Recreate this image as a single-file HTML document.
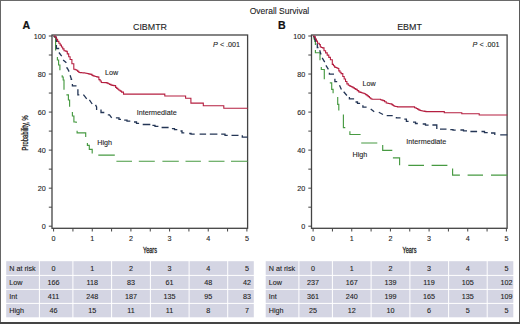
<!DOCTYPE html><html><head><meta charset="utf-8"><style>
html,body{margin:0;padding:0;background:#fff;}
svg{display:block;}
text{font-family:"Liberation Sans", sans-serif;fill:#222;stroke:#222;stroke-width:0.1px;}
</style></head><body>
<svg width="520" height="324" viewBox="0 0 520 324">
<rect x="0" y="0" width="520" height="324" fill="#fff"/>
<rect x="0" y="0" width="520" height="1" fill="#6a6a6a"/>
<rect x="0" y="0" width="1" height="324" fill="#666"/>
<rect x="519" y="0" width="1" height="324" fill="#5a5a5a"/>
<rect x="0" y="322" width="520" height="2" fill="#444"/>
<text x="279.5" y="13.9" font-size="8.5" text-anchor="middle">Overall Survival</text>
<text x="22.6" y="29.4" font-size="10.6" font-weight="bold" style="fill:#111;stroke:#111;stroke-width:0.2px">A</text>
<text x="150.00" y="30" font-size="8.9" text-anchor="middle">CIBMTR</text>
<rect x="52.00" y="35.0" width="195.60" height="193.30" fill="none" stroke="#444" stroke-width="1.3"/>
<line x1="48.80" y1="226.20" x2="52.00" y2="226.20" stroke="#444" stroke-width="1"/>
<text x="45.80" y="228.80" font-size="7.2" text-anchor="end">0</text>
<line x1="48.80" y1="207.18" x2="52.00" y2="207.18" stroke="#444" stroke-width="1"/>
<line x1="48.80" y1="188.16" x2="52.00" y2="188.16" stroke="#444" stroke-width="1"/>
<text x="45.80" y="190.76" font-size="7.2" text-anchor="end">20</text>
<line x1="48.80" y1="169.14" x2="52.00" y2="169.14" stroke="#444" stroke-width="1"/>
<line x1="48.80" y1="150.12" x2="52.00" y2="150.12" stroke="#444" stroke-width="1"/>
<text x="45.80" y="152.72" font-size="7.2" text-anchor="end">40</text>
<line x1="48.80" y1="131.10" x2="52.00" y2="131.10" stroke="#444" stroke-width="1"/>
<line x1="48.80" y1="112.08" x2="52.00" y2="112.08" stroke="#444" stroke-width="1"/>
<text x="45.80" y="114.68" font-size="7.2" text-anchor="end">60</text>
<line x1="48.80" y1="93.06" x2="52.00" y2="93.06" stroke="#444" stroke-width="1"/>
<line x1="48.80" y1="74.04" x2="52.00" y2="74.04" stroke="#444" stroke-width="1"/>
<text x="45.80" y="76.64" font-size="7.2" text-anchor="end">80</text>
<line x1="48.80" y1="55.02" x2="52.00" y2="55.02" stroke="#444" stroke-width="1"/>
<line x1="48.80" y1="36.00" x2="52.00" y2="36.00" stroke="#444" stroke-width="1"/>
<text x="45.80" y="38.60" font-size="7.2" text-anchor="end">100</text>
<line x1="53.60" y1="228.30" x2="53.60" y2="231.50" stroke="#444" stroke-width="1"/>
<text x="53.60" y="241" font-size="7.2" text-anchor="middle">0</text>
<line x1="72.93" y1="228.30" x2="72.93" y2="231.50" stroke="#444" stroke-width="1"/>
<line x1="92.26" y1="228.30" x2="92.26" y2="231.50" stroke="#444" stroke-width="1"/>
<text x="92.26" y="241" font-size="7.2" text-anchor="middle">1</text>
<line x1="111.59" y1="228.30" x2="111.59" y2="231.50" stroke="#444" stroke-width="1"/>
<line x1="130.92" y1="228.30" x2="130.92" y2="231.50" stroke="#444" stroke-width="1"/>
<text x="130.92" y="241" font-size="7.2" text-anchor="middle">2</text>
<line x1="150.25" y1="228.30" x2="150.25" y2="231.50" stroke="#444" stroke-width="1"/>
<line x1="169.58" y1="228.30" x2="169.58" y2="231.50" stroke="#444" stroke-width="1"/>
<text x="169.58" y="241" font-size="7.2" text-anchor="middle">3</text>
<line x1="188.91" y1="228.30" x2="188.91" y2="231.50" stroke="#444" stroke-width="1"/>
<line x1="208.24" y1="228.30" x2="208.24" y2="231.50" stroke="#444" stroke-width="1"/>
<text x="208.24" y="241" font-size="7.2" text-anchor="middle">4</text>
<line x1="227.57" y1="228.30" x2="227.57" y2="231.50" stroke="#444" stroke-width="1"/>
<line x1="246.90" y1="228.30" x2="246.90" y2="231.50" stroke="#444" stroke-width="1"/>
<text x="246.90" y="241" font-size="7.2" text-anchor="middle">5</text>
<text x="0" y="0" font-size="8.2" style="stroke-width:0.3px" text-anchor="middle" transform="translate(150.00,253) scale(0.68,1)">Years</text>
<text x="0" y="0" font-size="8.2" style="stroke-width:0.3px" text-anchor="middle" transform="translate(27.60,132.8) rotate(-90) scale(0.71,1)">Probability, %</text>
<text x="240.10" y="47.4" font-size="7.2" text-anchor="end"><tspan font-style="italic">P</tspan> &lt; .001</text>
<path d="M53.60,36.30 L55.20,37.10 L55.60,37.10 L55.60,50.40 M57.40,57.00 L57.40,60.00 L58.60,60.00 L58.60,65.00 L59.90,65.00 L59.90,70.20 M62.20,75.30 L62.20,77.00 L63.20,77.00 L63.20,80.00 L64.00,80.00 L64.00,89.70 M66.40,94.80 L68.40,94.80 L68.40,100.00 L69.60,100.00 L69.60,106.80 M72.40,111.90 L72.40,116.00 L73.90,116.00 L73.90,122.00 L76.20,122.00 L76.20,123.00 M77.10,130.80 L77.10,132.80 L85.70,132.80 L85.70,136.90 M87.40,143.00 L87.40,145.30 L89.30,145.30 L89.30,149.40 L92.20,149.40 L92.20,153.60 M98.30,155.10 L114.80,155.10 M116.40,161.20 L132.00,161.20 M138.80,161.20 L154.80,161.20 M162.40,161.20 L178.80,161.20 M185.50,161.20 L200.90,161.20 M208.60,161.20 L224.50,161.20 M231.00,161.20 L247.70,161.20" fill="none" stroke="#479a42" stroke-width="1.15" stroke-linejoin="miter"/>
<path d="M53.60,36.30 L55.20,37.10 L56.40,37.10 L56.40,42.00 M56.40,45.00 L56.40,48.50 L59.20,48.50 M58.90,52.50 L61.70,56.20 M63.10,59.90 L66.40,62.80 M66.20,67.90 L67.20,67.90 L69.10,71.60 M70.10,75.30 L71.20,78.60 L71.20,79.40 L72.20,79.40 M72.40,84.10 L72.40,85.90 L76.50,85.90 M77.90,89.20 L77.90,94.80 L79.30,94.80 M83.40,94.70 L86.70,98.90 M89.40,99.80 L92.20,104.00 M95.50,104.90 L96.60,107.00 L96.60,110.10 M101.00,109.50 L101.00,112.50 L104.30,112.50 M107.80,114.80 L109.50,114.80 L111.70,117.90 M115.90,117.90 L119.00,117.90 L119.00,119.30 L121.00,119.30 M124.20,120.20 L127.00,120.20 L127.00,121.10 L130.30,121.10 M134.00,122.00 L136.50,122.00 L136.50,123.40 L139.10,123.40 M142.70,124.50 L150.30,124.50 M152.40,125.40 L155.00,125.40 L155.00,126.40 L158.40,126.40 M161.60,127.50 L168.60,127.50 M171.90,128.60 L174.50,128.60 L174.50,129.70 L177.30,129.70 M180.50,131.00 L182.00,131.00 L182.00,132.90 L184.30,132.90 M189.20,133.50 L191.00,133.50 L191.00,134.20 L194.70,134.20 M199.60,134.20 L206.10,134.20 M209.80,134.20 L217.40,134.20 M221.20,134.20 L225.00,134.20 L225.00,135.30 L227.70,135.30 M231.50,135.30 L238.50,135.30 M242.30,135.30 L242.30,137.10 L247.70,137.10" fill="none" stroke="#243656" stroke-width="1.3" stroke-linejoin="miter"/>
<path d="M53.60,36.00 L55.20,36.00 L55.20,37.20 L56.40,37.20 L56.40,39.30 L57.60,39.30 L57.60,41.40 L58.88,41.40 L58.88,43.26 L60.16,43.26 L60.16,45.12 L61.44,45.12 L61.44,46.98 L62.72,46.98 L62.72,48.84 L64.00,48.84 L64.00,50.70 L65.40,50.70 L65.40,51.15 L66.80,51.15 L66.80,51.60 L67.30,51.60 L67.30,53.90 L68.70,53.90 L68.70,56.70 L70.10,56.70 L70.10,59.50 L71.90,59.50 L71.90,63.70 L73.80,63.70 L73.80,69.30 L75.15,69.30 L75.15,69.75 L76.50,69.75 L76.50,70.20 L77.70,70.20 L77.70,71.35 L78.90,71.35 L78.90,72.50 L80.28,72.50 L80.28,72.62 L81.65,72.62 L81.65,72.75 L83.03,72.75 L83.03,72.88 L84.40,72.88 L84.40,73.00 L85.70,73.00 L85.70,73.28 L87.00,73.28 L87.00,73.56 L88.30,73.56 L88.30,73.84 L89.60,73.84 L89.60,74.12 L90.90,74.12 L90.90,74.40 L92.00,74.40 L92.00,75.40 L93.15,75.40 L93.15,75.85 L94.30,75.85 L94.30,76.30 L95.53,76.30 L95.53,76.57 L96.77,76.57 L96.77,76.83 L98.00,76.83 L98.00,77.10 L98.90,77.10 L98.90,79.60 L100.10,79.60 L100.10,81.00 L101.30,81.00 L101.30,82.40 L105.90,82.60 L107.05,82.60 L107.05,83.15 L108.20,83.15 L108.20,83.70 L109.60,83.70 L109.60,84.40 L111.00,84.40 L111.00,85.10 L112.40,85.10 L112.40,85.35 L113.80,85.35 L113.80,85.60 L115.60,85.60 L115.60,87.40 L116.70,87.40 L116.70,88.33 L117.80,88.33 L117.80,89.27 L118.90,89.27 L118.90,90.20 L120.25,90.20 L120.25,91.15 L121.60,91.15 L121.60,92.10 L123.50,92.10 L123.50,94.10 L164.80,94.10 L164.80,96.00 L185.60,96.00 L185.60,98.20 L190.90,98.20 L190.90,103.10 L203.30,103.10 L203.30,105.70 L223.80,105.70 L223.80,108.20 L247.70,108.20" fill="none" stroke="#b51f40" stroke-width="1.1" stroke-linejoin="miter"/>
<text x="105.00" y="74.70" font-size="7.2">Low</text>
<text x="136.70" y="115.20" font-size="7.2">Intermediate</text>
<text x="97.20" y="144.80" font-size="7.2">High</text>
<rect x="6.20" y="261.20" width="32.70" height="13.70" fill="#d4d5e3"/>
<rect x="39.90" y="261.20" width="32.50" height="13.70" fill="#d4d5e3"/>
<rect x="73.40" y="261.20" width="37.70" height="13.70" fill="#d4d5e3"/>
<rect x="112.10" y="261.20" width="37.80" height="13.70" fill="#d4d5e3"/>
<rect x="150.90" y="261.20" width="37.70" height="13.70" fill="#d4d5e3"/>
<rect x="189.60" y="261.20" width="37.60" height="13.70" fill="#d4d5e3"/>
<rect x="228.20" y="261.20" width="25.60" height="13.70" fill="#d4d5e3"/>
<rect x="6.20" y="275.90" width="32.70" height="13.00" fill="#d4d5e3"/>
<rect x="39.90" y="275.90" width="32.50" height="13.00" fill="#d4d5e3"/>
<rect x="73.40" y="275.90" width="37.70" height="13.00" fill="#d4d5e3"/>
<rect x="112.10" y="275.90" width="37.80" height="13.00" fill="#d4d5e3"/>
<rect x="150.90" y="275.90" width="37.70" height="13.00" fill="#d4d5e3"/>
<rect x="189.60" y="275.90" width="37.60" height="13.00" fill="#d4d5e3"/>
<rect x="228.20" y="275.90" width="25.60" height="13.00" fill="#d4d5e3"/>
<rect x="6.20" y="289.90" width="32.70" height="13.00" fill="#d4d5e3"/>
<rect x="39.90" y="289.90" width="32.50" height="13.00" fill="#d4d5e3"/>
<rect x="73.40" y="289.90" width="37.70" height="13.00" fill="#d4d5e3"/>
<rect x="112.10" y="289.90" width="37.80" height="13.00" fill="#d4d5e3"/>
<rect x="150.90" y="289.90" width="37.70" height="13.00" fill="#d4d5e3"/>
<rect x="189.60" y="289.90" width="37.60" height="13.00" fill="#d4d5e3"/>
<rect x="228.20" y="289.90" width="25.60" height="13.00" fill="#d4d5e3"/>
<rect x="6.20" y="303.90" width="32.70" height="13.40" fill="#d4d5e3"/>
<rect x="39.90" y="303.90" width="32.50" height="13.40" fill="#d4d5e3"/>
<rect x="73.40" y="303.90" width="37.70" height="13.40" fill="#d4d5e3"/>
<rect x="112.10" y="303.90" width="37.80" height="13.40" fill="#d4d5e3"/>
<rect x="150.90" y="303.90" width="37.70" height="13.40" fill="#d4d5e3"/>
<rect x="189.60" y="303.90" width="37.60" height="13.40" fill="#d4d5e3"/>
<rect x="228.20" y="303.90" width="25.60" height="13.40" fill="#d4d5e3"/>
<text x="9.30" y="270.70" font-size="7.2">N at risk</text>
<text x="53.60" y="270.70" font-size="7.2" text-anchor="middle">0</text>
<text x="92.26" y="270.70" font-size="7.2" text-anchor="middle">1</text>
<text x="130.92" y="270.70" font-size="7.2" text-anchor="middle">2</text>
<text x="169.58" y="270.70" font-size="7.2" text-anchor="middle">3</text>
<text x="208.24" y="270.70" font-size="7.2" text-anchor="middle">4</text>
<text x="246.90" y="270.70" font-size="7.2" text-anchor="middle">5</text>
<text x="9.30" y="284.70" font-size="7.2">Low</text>
<text x="53.60" y="284.70" font-size="7.2" text-anchor="middle">166</text>
<text x="92.26" y="284.70" font-size="7.2" text-anchor="middle">118</text>
<text x="130.92" y="284.70" font-size="7.2" text-anchor="middle">83</text>
<text x="169.58" y="284.70" font-size="7.2" text-anchor="middle">61</text>
<text x="208.24" y="284.70" font-size="7.2" text-anchor="middle">48</text>
<text x="246.90" y="284.70" font-size="7.2" text-anchor="middle">42</text>
<text x="9.30" y="298.70" font-size="7.2">Int</text>
<text x="53.60" y="298.70" font-size="7.2" text-anchor="middle">411</text>
<text x="92.26" y="298.70" font-size="7.2" text-anchor="middle">248</text>
<text x="130.92" y="298.70" font-size="7.2" text-anchor="middle">187</text>
<text x="169.58" y="298.70" font-size="7.2" text-anchor="middle">135</text>
<text x="208.24" y="298.70" font-size="7.2" text-anchor="middle">95</text>
<text x="246.90" y="298.70" font-size="7.2" text-anchor="middle">83</text>
<text x="9.30" y="312.70" font-size="7.2">High</text>
<text x="53.60" y="312.70" font-size="7.2" text-anchor="middle">46</text>
<text x="92.26" y="312.70" font-size="7.2" text-anchor="middle">15</text>
<text x="130.92" y="312.70" font-size="7.2" text-anchor="middle">11</text>
<text x="169.58" y="312.70" font-size="7.2" text-anchor="middle">11</text>
<text x="208.24" y="312.70" font-size="7.2" text-anchor="middle">8</text>
<text x="246.90" y="312.70" font-size="7.2" text-anchor="middle">7</text>
<text x="278.1" y="29.4" font-size="10.6" font-weight="bold" style="fill:#111;stroke:#111;stroke-width:0.2px">B</text>
<text x="409.50" y="30" font-size="8.9" text-anchor="middle">EBMT</text>
<rect x="311.50" y="35.0" width="195.60" height="193.30" fill="none" stroke="#444" stroke-width="1.3"/>
<line x1="308.30" y1="226.20" x2="311.50" y2="226.20" stroke="#444" stroke-width="1"/>
<text x="305.30" y="228.80" font-size="7.2" text-anchor="end">0</text>
<line x1="308.30" y1="207.18" x2="311.50" y2="207.18" stroke="#444" stroke-width="1"/>
<line x1="308.30" y1="188.16" x2="311.50" y2="188.16" stroke="#444" stroke-width="1"/>
<text x="305.30" y="190.76" font-size="7.2" text-anchor="end">20</text>
<line x1="308.30" y1="169.14" x2="311.50" y2="169.14" stroke="#444" stroke-width="1"/>
<line x1="308.30" y1="150.12" x2="311.50" y2="150.12" stroke="#444" stroke-width="1"/>
<text x="305.30" y="152.72" font-size="7.2" text-anchor="end">40</text>
<line x1="308.30" y1="131.10" x2="311.50" y2="131.10" stroke="#444" stroke-width="1"/>
<line x1="308.30" y1="112.08" x2="311.50" y2="112.08" stroke="#444" stroke-width="1"/>
<text x="305.30" y="114.68" font-size="7.2" text-anchor="end">60</text>
<line x1="308.30" y1="93.06" x2="311.50" y2="93.06" stroke="#444" stroke-width="1"/>
<line x1="308.30" y1="74.04" x2="311.50" y2="74.04" stroke="#444" stroke-width="1"/>
<text x="305.30" y="76.64" font-size="7.2" text-anchor="end">80</text>
<line x1="308.30" y1="55.02" x2="311.50" y2="55.02" stroke="#444" stroke-width="1"/>
<line x1="308.30" y1="36.00" x2="311.50" y2="36.00" stroke="#444" stroke-width="1"/>
<text x="305.30" y="38.60" font-size="7.2" text-anchor="end">100</text>
<line x1="313.10" y1="228.30" x2="313.10" y2="231.50" stroke="#444" stroke-width="1"/>
<text x="313.10" y="241" font-size="7.2" text-anchor="middle">0</text>
<line x1="332.43" y1="228.30" x2="332.43" y2="231.50" stroke="#444" stroke-width="1"/>
<line x1="351.76" y1="228.30" x2="351.76" y2="231.50" stroke="#444" stroke-width="1"/>
<text x="351.76" y="241" font-size="7.2" text-anchor="middle">1</text>
<line x1="371.09" y1="228.30" x2="371.09" y2="231.50" stroke="#444" stroke-width="1"/>
<line x1="390.42" y1="228.30" x2="390.42" y2="231.50" stroke="#444" stroke-width="1"/>
<text x="390.42" y="241" font-size="7.2" text-anchor="middle">2</text>
<line x1="409.75" y1="228.30" x2="409.75" y2="231.50" stroke="#444" stroke-width="1"/>
<line x1="429.08" y1="228.30" x2="429.08" y2="231.50" stroke="#444" stroke-width="1"/>
<text x="429.08" y="241" font-size="7.2" text-anchor="middle">3</text>
<line x1="448.41" y1="228.30" x2="448.41" y2="231.50" stroke="#444" stroke-width="1"/>
<line x1="467.74" y1="228.30" x2="467.74" y2="231.50" stroke="#444" stroke-width="1"/>
<text x="467.74" y="241" font-size="7.2" text-anchor="middle">4</text>
<line x1="487.07" y1="228.30" x2="487.07" y2="231.50" stroke="#444" stroke-width="1"/>
<line x1="506.40" y1="228.30" x2="506.40" y2="231.50" stroke="#444" stroke-width="1"/>
<text x="506.40" y="241" font-size="7.2" text-anchor="middle">5</text>
<text x="0" y="0" font-size="8.2" style="stroke-width:0.3px" text-anchor="middle" transform="translate(409.50,253) scale(0.68,1)">Years</text>
<text x="499.60" y="47.4" font-size="7.2" text-anchor="end"><tspan font-style="italic">P</tspan> &lt; .001</text>
<path d="M313.20,36.30 L314.00,37.00 L314.00,39.00 L314.80,39.00 L314.80,41.50 L315.40,41.50 L315.40,45.00 M315.40,49.90 L315.40,52.70 L320.00,52.70 L320.00,60.30 M321.30,67.10 L321.30,69.50 L324.30,69.50 L324.30,79.30 M329.80,82.80 L331.70,82.80 L331.70,89.40 L333.10,89.40 L333.10,93.20 M337.70,96.90 L337.70,104.40 L338.80,104.40 L338.80,110.40 M343.40,114.60 L343.40,127.60 L345.30,127.60 M349.90,131.30 L349.90,134.50 L360.60,134.50 M361.20,143.00 L377.30,143.00 M382.70,144.90 L382.70,150.30 L392.30,150.30 M392.90,157.80 L399.60,157.80 L399.60,165.30 M408.30,165.30 L424.00,165.30 M431.60,165.30 L447.40,165.30 M452.60,168.40 L452.60,175.10 L459.90,175.10 M467.60,175.10 L483.00,175.10 M491.00,175.10 L507.30,175.10" fill="none" stroke="#479a42" stroke-width="1.15" stroke-linejoin="miter"/>
<path d="M313.20,36.30 L314.20,37.00 L314.80,37.00 L314.80,39.50 L315.60,39.50 L315.60,42.00 M316.60,44.00 L317.30,44.00 L317.30,47.50 L318.50,47.50 M319.70,50.30 L321.00,54.50 M322.20,57.90 L324.70,62.20 M325.90,65.30 L328.40,69.30 M329.40,72.70 L329.40,74.20 L334.00,74.20 M334.90,78.80 L334.90,81.60 L337.20,81.60 M339.50,85.30 L341.40,89.40 M343.70,91.80 L346.90,95.50 M349.40,96.90 L349.40,98.80 L354.10,98.80 M355.50,102.00 L357.50,102.00 L357.50,103.40 L360.10,103.40 M362.90,105.30 L362.90,107.10 L366.60,107.10 M370.70,109.00 L374.20,111.80 M378.80,112.20 L383.00,114.50 M386.70,115.70 L392.70,115.70 M396.40,116.90 L396.40,117.80 L400.60,117.80 M404.30,119.10 L406.40,119.10 L406.40,121.30 L408.60,121.30 M413.00,122.20 L415.50,122.20 L415.50,123.50 L417.80,123.50 M422.70,124.00 L425.50,124.00 L425.50,125.10 L428.60,125.10 M432.40,125.00 L436.80,125.00 L436.80,128.90 M440.00,129.10 L446.50,129.10 M450.30,129.60 L453.00,129.60 L453.00,130.20 L455.70,130.20 M460.40,130.00 L463.50,130.00 L463.50,130.90 L467.00,130.90 M470.40,131.50 L477.10,131.50 M481.50,131.50 L484.50,131.50 L484.50,132.60 L487.70,132.60 M491.00,133.00 L494.80,133.00 L494.80,135.00 M500.20,134.80 L507.30,134.80" fill="none" stroke="#243656" stroke-width="1.3" stroke-linejoin="miter"/>
<path d="M313.20,36.00 L314.20,36.00 L314.20,36.80 L315.30,36.80 L315.30,38.97 L316.40,38.97 L316.40,41.13 L317.50,41.13 L317.50,43.30 L319.30,43.30 L319.30,44.60 L320.30,44.60 L320.30,47.00 L321.45,47.00 L321.45,47.45 L322.60,47.45 L322.60,47.90 L324.00,47.90 L324.00,50.70 L325.60,50.70 L325.60,52.90 L327.20,52.90 L327.20,55.10 L328.80,55.10 L328.80,57.40 L330.40,57.40 L330.40,59.70 L332.30,59.70 L332.30,64.40 L333.45,64.40 L333.45,65.75 L334.60,65.75 L334.60,67.10 L335.70,67.10 L335.70,67.57 L336.80,67.57 L336.80,68.03 L337.90,68.03 L337.90,68.50 L338.80,68.50 L338.80,70.90 L339.95,70.90 L339.95,72.25 L341.10,72.25 L341.10,73.60 L342.80,73.60 L342.80,76.50 L344.17,76.50 L344.17,78.97 L345.53,78.97 L345.53,81.43 L346.90,81.43 L346.90,83.90 L348.30,83.90 L348.30,85.30 L349.53,85.30 L349.53,85.90 L350.77,85.90 L350.77,86.50 L352.00,86.50 L352.00,87.10 L353.23,87.10 L353.23,87.87 L354.47,87.87 L354.47,88.63 L355.70,88.63 L355.70,89.40 L357.20,89.40 L357.20,90.65 L358.70,90.65 L358.70,91.90 L360.10,91.90 L360.10,92.35 L361.50,92.35 L361.50,92.80 L362.90,92.80 L362.90,93.25 L364.30,93.25 L364.30,93.70 L365.65,93.70 L365.65,94.65 L367.00,94.65 L367.00,95.60 L368.23,95.60 L368.23,96.67 L369.47,96.67 L369.47,97.73 L370.70,97.73 L370.70,98.80 L371.90,98.80 L371.90,99.30 L379.30,99.30 L380.53,99.30 L380.53,99.73 L381.77,99.73 L381.77,100.17 L383.00,100.17 L383.00,100.60 L384.60,100.60 L384.60,101.80 L386.20,101.80 L386.20,103.00 L387.35,103.00 L387.35,103.22 L388.50,103.22 L388.50,103.45 L389.65,103.45 L389.65,103.68 L390.80,103.68 L390.80,103.90 L391.90,103.90 L391.90,104.67 L393.00,104.67 L393.00,105.43 L394.10,105.43 L394.10,106.20 L395.70,106.20 L395.70,106.55 L397.30,106.55 L397.30,106.90 L413.00,106.90 L414.60,106.90 L414.60,107.70 L416.20,107.70 L416.20,108.50 L417.47,108.50 L417.47,109.17 L418.73,109.17 L418.73,109.83 L420.00,109.83 L420.00,110.50 L421.18,110.50 L421.18,110.72 L422.36,110.72 L422.36,110.94 L423.54,110.94 L423.54,111.16 L424.72,111.16 L424.72,111.38 L425.90,111.38 L425.90,111.60 L442.70,111.60 L444.30,111.60 L444.30,112.70 L460.90,112.70 L461.80,112.70 L461.80,113.70 L478.20,113.70 L479.20,113.70 L479.20,115.00 L507.30,115.00" fill="none" stroke="#b51f40" stroke-width="1.1" stroke-linejoin="miter"/>
<text x="362.50" y="86.20" font-size="7.2">Low</text>
<text x="406.30" y="143.70" font-size="7.2">Intermediate</text>
<text x="352.50" y="157.10" font-size="7.2">High</text>
<rect x="265.70" y="261.20" width="32.70" height="13.70" fill="#d4d5e3"/>
<rect x="299.40" y="261.20" width="32.50" height="13.70" fill="#d4d5e3"/>
<rect x="332.90" y="261.20" width="37.70" height="13.70" fill="#d4d5e3"/>
<rect x="371.60" y="261.20" width="37.80" height="13.70" fill="#d4d5e3"/>
<rect x="410.40" y="261.20" width="37.70" height="13.70" fill="#d4d5e3"/>
<rect x="449.10" y="261.20" width="37.60" height="13.70" fill="#d4d5e3"/>
<rect x="487.70" y="261.20" width="25.60" height="13.70" fill="#d4d5e3"/>
<rect x="265.70" y="275.90" width="32.70" height="13.00" fill="#d4d5e3"/>
<rect x="299.40" y="275.90" width="32.50" height="13.00" fill="#d4d5e3"/>
<rect x="332.90" y="275.90" width="37.70" height="13.00" fill="#d4d5e3"/>
<rect x="371.60" y="275.90" width="37.80" height="13.00" fill="#d4d5e3"/>
<rect x="410.40" y="275.90" width="37.70" height="13.00" fill="#d4d5e3"/>
<rect x="449.10" y="275.90" width="37.60" height="13.00" fill="#d4d5e3"/>
<rect x="487.70" y="275.90" width="25.60" height="13.00" fill="#d4d5e3"/>
<rect x="265.70" y="289.90" width="32.70" height="13.00" fill="#d4d5e3"/>
<rect x="299.40" y="289.90" width="32.50" height="13.00" fill="#d4d5e3"/>
<rect x="332.90" y="289.90" width="37.70" height="13.00" fill="#d4d5e3"/>
<rect x="371.60" y="289.90" width="37.80" height="13.00" fill="#d4d5e3"/>
<rect x="410.40" y="289.90" width="37.70" height="13.00" fill="#d4d5e3"/>
<rect x="449.10" y="289.90" width="37.60" height="13.00" fill="#d4d5e3"/>
<rect x="487.70" y="289.90" width="25.60" height="13.00" fill="#d4d5e3"/>
<rect x="265.70" y="303.90" width="32.70" height="13.40" fill="#d4d5e3"/>
<rect x="299.40" y="303.90" width="32.50" height="13.40" fill="#d4d5e3"/>
<rect x="332.90" y="303.90" width="37.70" height="13.40" fill="#d4d5e3"/>
<rect x="371.60" y="303.90" width="37.80" height="13.40" fill="#d4d5e3"/>
<rect x="410.40" y="303.90" width="37.70" height="13.40" fill="#d4d5e3"/>
<rect x="449.10" y="303.90" width="37.60" height="13.40" fill="#d4d5e3"/>
<rect x="487.70" y="303.90" width="25.60" height="13.40" fill="#d4d5e3"/>
<text x="268.80" y="270.70" font-size="7.2">N at risk</text>
<text x="313.10" y="270.70" font-size="7.2" text-anchor="middle">0</text>
<text x="351.76" y="270.70" font-size="7.2" text-anchor="middle">1</text>
<text x="390.42" y="270.70" font-size="7.2" text-anchor="middle">2</text>
<text x="429.08" y="270.70" font-size="7.2" text-anchor="middle">3</text>
<text x="467.74" y="270.70" font-size="7.2" text-anchor="middle">4</text>
<text x="506.40" y="270.70" font-size="7.2" text-anchor="middle">5</text>
<text x="268.80" y="284.70" font-size="7.2">Low</text>
<text x="313.10" y="284.70" font-size="7.2" text-anchor="middle">237</text>
<text x="351.76" y="284.70" font-size="7.2" text-anchor="middle">167</text>
<text x="390.42" y="284.70" font-size="7.2" text-anchor="middle">139</text>
<text x="429.08" y="284.70" font-size="7.2" text-anchor="middle">119</text>
<text x="467.74" y="284.70" font-size="7.2" text-anchor="middle">105</text>
<text x="506.40" y="284.70" font-size="7.2" text-anchor="middle">102</text>
<text x="268.80" y="298.70" font-size="7.2">Int</text>
<text x="313.10" y="298.70" font-size="7.2" text-anchor="middle">361</text>
<text x="351.76" y="298.70" font-size="7.2" text-anchor="middle">240</text>
<text x="390.42" y="298.70" font-size="7.2" text-anchor="middle">199</text>
<text x="429.08" y="298.70" font-size="7.2" text-anchor="middle">165</text>
<text x="467.74" y="298.70" font-size="7.2" text-anchor="middle">135</text>
<text x="506.40" y="298.70" font-size="7.2" text-anchor="middle">109</text>
<text x="268.80" y="312.70" font-size="7.2">High</text>
<text x="313.10" y="312.70" font-size="7.2" text-anchor="middle">25</text>
<text x="351.76" y="312.70" font-size="7.2" text-anchor="middle">12</text>
<text x="390.42" y="312.70" font-size="7.2" text-anchor="middle">10</text>
<text x="429.08" y="312.70" font-size="7.2" text-anchor="middle">6</text>
<text x="467.74" y="312.70" font-size="7.2" text-anchor="middle">5</text>
<text x="506.40" y="312.70" font-size="7.2" text-anchor="middle">5</text>
</svg></body></html>
